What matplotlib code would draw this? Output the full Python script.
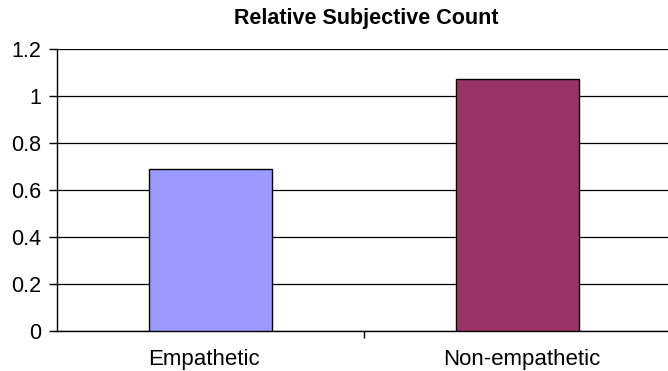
import matplotlib
matplotlib.use("Agg")
import matplotlib.pyplot as plt

plt.rcParams["font.family"] = ["Liberation Sans", "DejaVu Sans"]

# data
categories = ["Empathetic", "Non-empathetic"]
values = [0.69, 1.075]
colors = ["#9999FF", "#993366"]

fig = plt.figure(figsize=(6.68, 3.71), dpi=100)
ax = fig.add_axes([0.086, 0.1086, 0.914, 0.758])

x = range(len(categories))
ax.bar(x, values, width=0.4, color=colors, edgecolor="black", linewidth=1.0, zorder=3)

ax.set_ylim(0, 1.2)
ax.set_xlim(-0.5, 1.49)
ax.set_yticks([0, 0.2, 0.4, 0.6, 0.8, 1.0, 1.2])
ax.set_yticklabels(["0", "0.2", "0.4", "0.6", "0.8", "1", "1.2"], fontsize=15.5)
ax.yaxis.grid(True, color="black", linewidth=0.9, zorder=0)
ax.set_axisbelow(True)

# category labels without ticks, separator tick between the categories
ax.set_xticks([0.5])
ax.set_xticklabels([""])
ax.tick_params(axis="x", length=5, width=1, color="black")
ax.tick_params(axis="y", length=5.5, width=1, color="black", pad=6)
label_shift = [-5, 3]
for i, c in enumerate(categories):
    ax.annotate(c, xy=(i, 0), xycoords=("data", "axes fraction"),
                xytext=(label_shift[i], -13), textcoords="offset points",
                ha="center", va="top", fontsize=16)

for s in ["top", "right"]:
    ax.spines[s].set_visible(False)
ax.spines["left"].set_linewidth(1.0)
ax.spines["bottom"].set_linewidth(1.0)

fig.text(0.548, 0.949, "Relative Subjective Count", ha="center", va="center",
         fontsize=15.5, fontweight="bold")

fig.savefig("out.png", dpi=100)
